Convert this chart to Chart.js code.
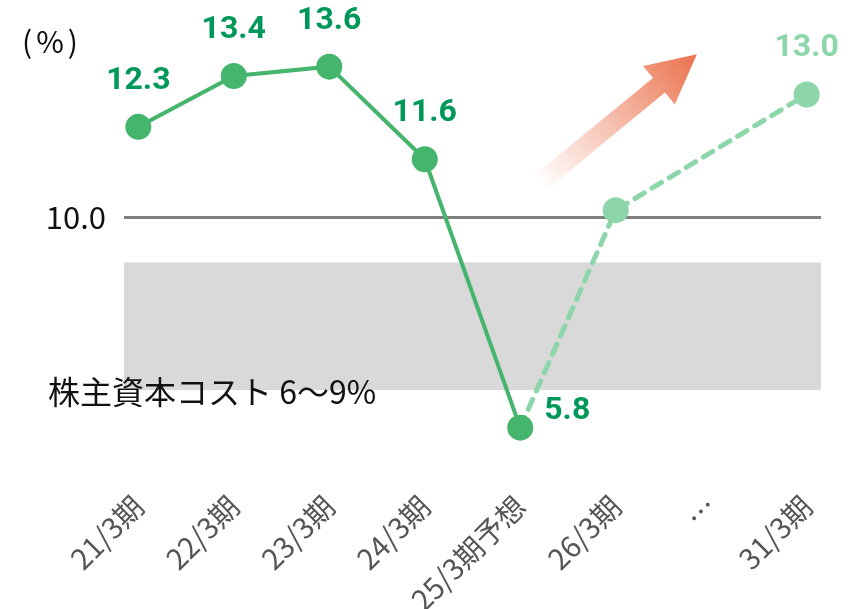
<!DOCTYPE html>
<html>
<head>
<meta charset="utf-8">
<script src="https://cdn.jsdelivr.net/npm/chart.js@4"></script>
<style>
    html, body { margin: 0; padding: 0; background: #fff; }
    .chart { width: 868px; height: 609px; position: relative; }
</style>
</head>
<body>
<div class="chart"><canvas id="canva"></canvas></div>
<script>
// ROE by fiscal year (%)
const categories = ['21/3期', '22/3期', '23/3期', '24/3期', '25/3期予想', '26/3期', '…', '31/3期'];
const actualRoe = [12.3, 13.4, 13.6, 11.6, 5.8, null, null, null];
const planRoe = [null, null, null, null, 5.8, 10.5, null, 13.0];
const planLabelled = [false, false, false, false, false, false, false, true];

// the picture draws its "10.0" line and 6-9% band a little off the point scale
const yTickValues = [10.35];
const yTickLabels = ['10.0'];
const costBand = [6.61, 9.37];
const costBandLabel = '株主資本コスト 6〜9%';
const unitLabel = '(%)';

// upward arrow, tail and tip in data units
const arrowFrom = [4.2, 11.08];
const arrowTo = [5.85, 13.87];

const GREEN = '#45b46c';
const GREEN_TEXT = '#00985a';
const LIGHT_GREEN = '#8dd6a9';
const JP_FONT = '"Noto Sans CJK JP", "Noto Sans", sans-serif';

const toPoints = (arr) =>
    arr.map((v, i) => ({ x: i, y: v })).filter((p) => p.y !== null);

const bandPlugin = {
    id: 'band',
    beforeDatasetsDraw(chart) {
        const { ctx, chartArea, scales } = chart;
        const yTop = scales.y.getPixelForValue(costBand[1]);
        const yBot = scales.y.getPixelForValue(costBand[0]);
        ctx.save();
        ctx.fillStyle = '#d9d9d9';
        ctx.fillRect(chartArea.left, yTop, chartArea.right - chartArea.left, yBot - yTop);
        ctx.fillStyle = '#111';
        ctx.font = '32px ' + JP_FONT;
        ctx.textBaseline = 'middle';
        ctx.textAlign = 'left';
        ctx.fillText(costBandLabel, chartArea.left - 76, yBot + 2);
        ctx.font = '30px ' + JP_FONT;
        ctx.letterSpacing = '4px';
        ctx.fillText(unitLabel, chartArea.left - 102, 42);
        ctx.letterSpacing = '0px';

        // arrow
        const x0 = scales.x.getPixelForValue(arrowFrom[0]);
        const y0 = scales.y.getPixelForValue(arrowFrom[1]);
        const x1 = scales.x.getPixelForValue(arrowTo[0]);
        const y1 = scales.y.getPixelForValue(arrowTo[1]);
        const len = Math.hypot(x1 - x0, y1 - y0);
        const ang = Math.atan2(y1 - y0, x1 - x0);
        ctx.translate(x0, y0);
        ctx.rotate(ang);
        const grad = ctx.createLinearGradient(0, 0, len, 0);
        grad.addColorStop(0, 'rgba(235,119,82,0)');
        grad.addColorStop(1, 'rgba(235,114,78,1)');
        ctx.fillStyle = grad;
        const headLen = 49, headHalf = 25, shaftHalf = 9.5;
        ctx.beginPath();
        ctx.moveTo(0, -shaftHalf);
        ctx.lineTo(len - headLen, -shaftHalf);
        ctx.lineTo(len - headLen, -headHalf);
        ctx.lineTo(len, 0);
        ctx.lineTo(len - headLen, headHalf);
        ctx.lineTo(len - headLen, shaftHalf);
        ctx.lineTo(0, shaftHalf);
        ctx.closePath();
        ctx.fill();
        ctx.restore();
    },
};

const valueLabelPlugin = {
    id: 'valueLabels',
    afterDatasetsDraw(chart) {
        const { ctx } = chart;
        ctx.save();
        ctx.font = 'bold 32px Roboto, "Noto Sans", sans-serif';
        ctx.textAlign = 'center';
        ctx.textBaseline = 'middle';
        const actualMeta = chart.getDatasetMeta(0).data;
        actualMeta.forEach((pt, i) => {
            const v = chart.data.datasets[0].data[i].y;
            ctx.fillStyle = GREEN_TEXT;
            if (i === actualMeta.length - 1) {
                ctx.fillText(v.toFixed(1), pt.x + 47, pt.y - 17);
            } else {
                ctx.fillText(v.toFixed(1), pt.x, pt.y - 46);
            }
        });
        chart.getDatasetMeta(1).data.forEach((pt, i) => {
            const d = chart.data.datasets[1].data[i];
            if (!planLabelled[d.x]) return;
            ctx.fillStyle = LIGHT_GREEN;
            ctx.fillText(d.y.toFixed(1), pt.x, pt.y - 46);
        });
        ctx.restore();
    },
};

new Chart(document.querySelector('#canva').getContext('2d'), {
    type: 'line',
    data: {
        datasets: [
            {
                label: '実績',
                data: toPoints(actualRoe),
                borderColor: GREEN,
                backgroundColor: GREEN,
                borderWidth: 4,
                pointRadius: 13,
                pointHoverRadius: 13,
                pointBorderWidth: 0,
                clip: false,
                order: 1,
            },
            {
                label: '計画',
                data: toPoints(planRoe),
                borderColor: LIGHT_GREEN,
                backgroundColor: LIGHT_GREEN,
                borderWidth: 5,
                borderDash: [11, 9],
                borderCapStyle: 'round',
                pointRadius: [0, 13, 13],
                pointHoverRadius: [0, 13, 13],
                pointBorderWidth: 0,
                clip: false,
                order: 2,
            },
        ],
    },
    options: {
        responsive: true,
        maintainAspectRatio: false,
        animation: false,
        layout: { padding: { top: 0, left: 0, right: 47, bottom: 0 } },
        plugins: {
            legend: { display: false },
            tooltip: { enabled: false },
        },
        scales: {
            x: {
                type: 'linear',
                min: -0.15,
                max: 7.15,
                afterBuildTicks: (scale) => {
                    scale.ticks = categories.map((c, i) => ({ value: i }));
                },
                afterFit: (scale) => {
                    scale.height = 130;
                },
                ticks: {
                    autoSkip: false,
                    minRotation: 45,
                    maxRotation: 45,
                    padding: 2,
                    color: '#555',
                    font: { family: JP_FONT, size: 29 },
                    callback: (v) => categories[v],
                },
                grid: { display: false },
                border: { display: false },
            },
            y: {
                min: 4.69,
                max: 14.25,
                afterBuildTicks: (scale) => {
                    scale.ticks = yTickValues.map((v) => ({ value: v }));
                },
                afterFit: (scale) => {
                    scale.width = 124;
                },
                ticks: {
                    padding: 18,
                    color: '#111',
                    font: { family: JP_FONT, size: 31 },
                    callback: (v, i) => yTickLabels[i],
                },
                grid: { color: '#808080', lineWidth: 3, drawTicks: false },
                border: { display: false },
            },
        },
    },
    plugins: [bandPlugin, valueLabelPlugin],
});
</script>
</body>
</html>
